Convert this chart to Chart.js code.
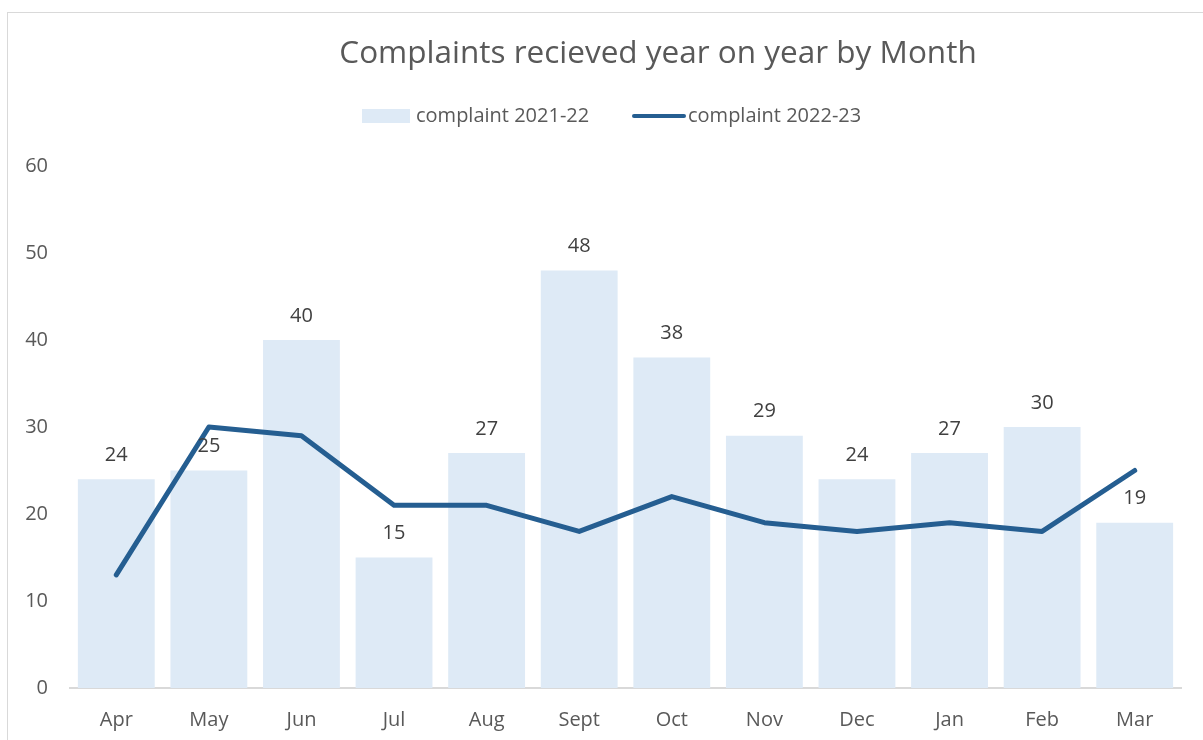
<!DOCTYPE html>
<html>
<head>
<meta charset="utf-8">
<script src="https://cdn.jsdelivr.net/npm/chart.js@4"></script>
<style>
html,body{margin:0;padding:0;background:#fff;}
#wrap{position:relative;width:1203px;height:740px;overflow:hidden;}
#frame{position:absolute;left:7px;top:12px;width:1300px;height:800px;border:1px solid #D9D9D9;box-sizing:border-box;}
canvas{position:absolute;left:0;top:0;}
</style>
</head>
<body>
<div id="wrap"><div id="frame"></div><canvas id="c" width="1203" height="740"></canvas></div>
<script>
const months = ['Apr','May','Jun','Jul','Aug','Sept','Oct','Nov','Dec','Jan','Feb','Mar'];
const complaints2122 = [24,25,40,15,27,48,38,29,24,27,30,19];
const complaints2223 = [13,30,29,21,21,18,22,19,18,19,18,25];
const yTicks = [0,10,20,30,40,50,60];
const seriesNames = ['complaint 2021-22','complaint 2022-23'];
const titleText = 'Complaints recieved year on year by Month';

const FONT = "'Open Sans', 'Noto Sans', sans-serif";
const BAR_COLOR = '#DEEAF6';
const LINE_COLOR = '#255E91';
const TEXT = '#595959';

const labelPlugin = {
  id: 'barLabels',
  afterDatasetsDraw(chart) {
    const ctx = chart.ctx;
    const meta = chart.getDatasetMeta(0);
    ctx.save();
    ctx.font = "20px " + FONT;
    ctx.fillStyle = '#404040';
    ctx.textAlign = 'center';
    ctx.textBaseline = 'middle';
    meta.data.forEach((bar, i) => {
      ctx.fillText(String(complaints2122[i]), bar.x, bar.y - 24);
    });
    ctx.restore();
  }
};

const headerPlugin = {
  id: 'header',
  afterDraw(chart) {
    const ctx = chart.ctx;
    ctx.save();
    ctx.textBaseline = 'middle';
    ctx.font = "31.5px " + FONT;
    ctx.fillStyle = TEXT;
    ctx.textAlign = 'center';
    ctx.fillText(titleText, 658, 54);
    ctx.font = "20px " + FONT;
    ctx.textAlign = 'left';
    const y = 116;
    ctx.fillStyle = BAR_COLOR;
    ctx.fillRect(362, y - 7, 48, 14);
    ctx.fillStyle = TEXT;
    ctx.fillText(seriesNames[0], 416, y);
    ctx.strokeStyle = LINE_COLOR;
    ctx.lineWidth = 4;
    ctx.lineCap = 'round';
    ctx.beginPath();
    ctx.moveTo(634, y);
    ctx.lineTo(684, y);
    ctx.stroke();
    ctx.fillText(seriesNames[1], 688, y);
    ctx.restore();
  }
};

new Chart(document.getElementById('c'), {
  data: {
    labels: months,
    datasets: [
      {
        type: 'bar',
        label: seriesNames[0],
        data: complaints2122,
        backgroundColor: BAR_COLOR,
        barPercentage: 0.83,
        categoryPercentage: 1.0,
        order: 2
      },
      {
        type: 'line',
        label: seriesNames[1],
        data: complaints2223,
        borderColor: LINE_COLOR,
        borderWidth: 5,
        pointRadius: 0,
        borderCapStyle: 'round',
        borderJoinStyle: 'round',
        tension: 0,
        fill: false,
        order: 1
      }
    ]
  },
  options: {
    responsive: false,
    animation: false,
    devicePixelRatio: 1,
    layout: { padding: { left: 0, right: 22, top: 166, bottom: 0 } },
    plugins: {
      legend: { display: false },
      tooltip: { enabled: false },
      title: { display: false }
    },
    scales: {
      x: {
        grid: { display: false },
        border: { display: true, color: '#D9D9D9', width: 2 },
        ticks: { color: TEXT, font: { family: FONT, size: 20 }, padding: 12 },
        afterFit(axis) { axis.height = 52; }
      },
      y: {
        min: 0, max: 60,
        afterBuildTicks(axis) { axis.ticks = yTicks.map(v => ({ value: v })); },
        grid: { display: false },
        border: { display: false },
        ticks: { color: TEXT, font: { family: FONT, size: 20 }, padding: 14 },
        afterFit(axis) { axis.width = 70; }
      }
    }
  },
  plugins: [labelPlugin, headerPlugin]
});
</script>
</body>
</html>
